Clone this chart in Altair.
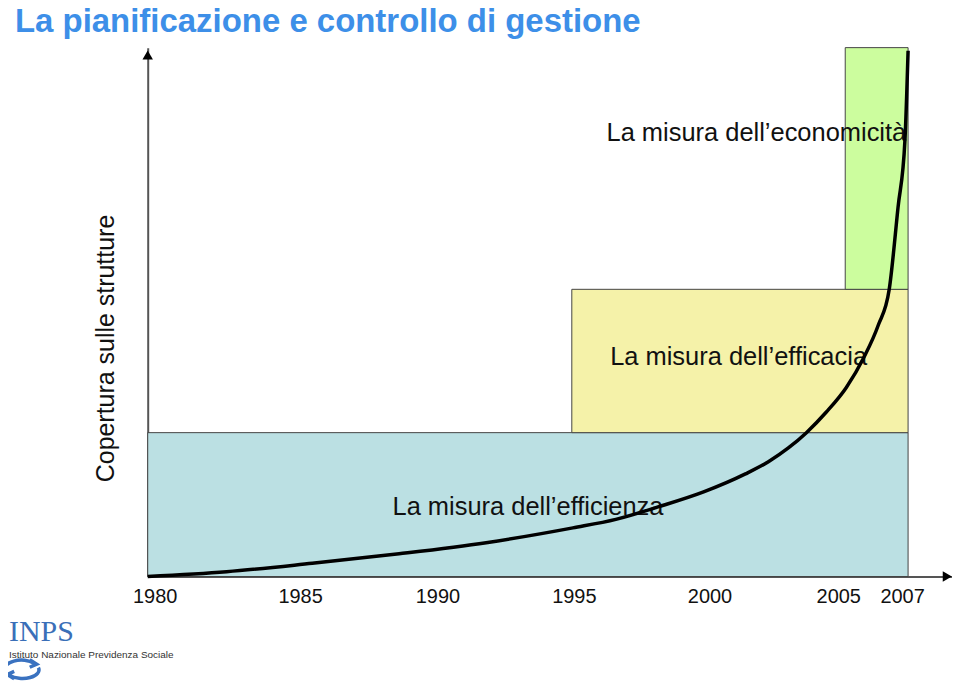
import altair as alt
import pandas as pd

TITLE = "La pianificazione e controllo di gestione"
Y_TITLE = "Copertura sulle strutture"
X_TICKS = [1980, 1985, 1990, 1995, 2000, 2005, 2007]
X_TICK_SHIFT = [7, 11, 7, 2, 1, -7, -6]

BOX_NAMES = ["efficienza", "efficacia", "economicita"]
BOX_X0 = [1980, 1995, 2005]
BOX_X1 = [2007, 2007, 2007]
BOX_Y0 = [0, 27.2, 54.3]
BOX_Y1 = [27.2, 54.3, 100]
BOX_COLORS = ["#BBE0E3", "#F5F2A9", "#CCFD9E"]

LABELS = ["La misura dell\u2019efficienza", "La misura dell\u2019efficacia",
          "La misura dell\u2019economicit\u00e0"]
LABEL_X = [1993.45, 2001.1, 2001.75]
LABEL_Y = [13.2, 41.5, 83.8]

CURVE_YEAR = [1980.0, 1982.79, 1985.82, 1988.89, 1991.97, 1995.04, 1996.61, 1998.18,
              1999.82, 2001.35, 2002.19, 2002.92, 2003.58, 2004.31, 2005.03, 2005.6,
              2006.05, 2006.4, 2006.68, 2006.9, 2007.0]
CURVE_VAL = [0, 0.9, 2.5, 4.3, 6.4, 9.2, 10.8, 13.2,
             16.0, 19.4, 21.7, 24.3, 27.2, 31.1, 35.7, 41.5,
             47.5, 54.3, 69.8, 82.5, 99.4]

LOGO_MARK = "INPS"
LOGO_TEXT = "Istituto Nazionale Previdenza Sociale"

X_END = 2008.4

boxes = pd.DataFrame({"name": BOX_NAMES, "x0": BOX_X0, "x1": BOX_X1,
                      "y0": BOX_Y0, "y1": BOX_Y1})
labels = pd.DataFrame({"label": LABELS, "x": LABEL_X, "y": LABEL_Y})
curve = pd.DataFrame({"year": CURVE_YEAR, "val": CURVE_VAL})
arrows = pd.DataFrame({"x": [X_END - 0.15, 1980], "y": [0, 98.6],
                       "shape": ["triangle-right", "triangle-up"]})
one = pd.DataFrame({"k": [0]})

x_scale = alt.Scale(domain=[1980, 1995, 2005, 2007, X_END],
                    range=[0, 425, 699, 762, 806], nice=False, zero=False)
y_scale = alt.Scale(domain=[0, 100], nice=False, zero=False)

label_offset = {
    "condition": [{"test": f"datum.value == {t}", "value": s}
                  for t, s in zip(X_TICKS, X_TICK_SHIFT)],
    "value": 0,
}

x_axis = alt.Axis(values=X_TICKS, format="d", title=None, ticks=False, grid=False,
                  labelFontSize=20, labelFont="Liberation Sans", labelColor="#111111",
                  labelPadding=10, domainColor="#555555", domainWidth=2,
                  labelFlush=False, labelOverlap=False, labelOffset=label_offset)
y_axis = alt.Axis(title=Y_TITLE, labels=False, ticks=False, grid=False,
                  domainColor="#555555", domainWidth=2, titleFontSize=25,
                  titleFont="Liberation Sans", titleFontWeight="normal",
                  titleColor="#111111", titleX=-34, titleY=301, titleAngle=270,
                  titleBaseline="alphabetic", titleAlign="center")

rects = alt.Chart(boxes).mark_rect(stroke="#444444", strokeWidth=1).encode(
    x=alt.X("x0:Q", scale=x_scale, axis=x_axis),
    x2="x1:Q",
    y=alt.Y("y0:Q", scale=y_scale, axis=y_axis),
    y2="y1:Q",
    color=alt.Color("name:N", scale=alt.Scale(domain=BOX_NAMES, range=BOX_COLORS),
                    legend=None),
)

texts = alt.Chart(labels).mark_text(fontSize=25.5, font="Liberation Sans",
                                    color="#111111", align="center",
                                    baseline="middle").encode(
    x=alt.X("x:Q", scale=x_scale, axis=x_axis),
    y=alt.Y("y:Q", scale=y_scale, axis=y_axis),
    text="label:N",
)

line = alt.Chart(curve).mark_line(color="black", strokeWidth=3.5,
                                  interpolate="monotone").encode(
    x=alt.X("year:Q", scale=x_scale, axis=x_axis),
    y=alt.Y("val:Q", scale=y_scale, axis=y_axis),
)

heads = alt.Chart(arrows).mark_point(filled=True, size=110, color="#000000",
                                     opacity=1).encode(
    x=alt.X("x:Q", scale=x_scale, axis=x_axis),
    y=alt.Y("y:Q", scale=y_scale, axis=y_axis),
    shape=alt.Shape("shape:N", scale=None),
)

logo1 = alt.Chart(one).mark_text(text=LOGO_MARK, font="Liberation Serif", fontSize=30,
                                 color="#3A6FB8", align="left",
                                 baseline="alphabetic").encode(
    x=alt.value(-139), y=alt.value(595))
logo2 = alt.Chart(one).mark_text(text=LOGO_TEXT, font="Liberation Sans", fontSize=10,
                                 color="#333333", align="left",
                                 baseline="alphabetic").encode(
    x=alt.value(-139), y=alt.value(612))
RING = ("M -0.95 0.1 A 0.95 0.5 0 0 1 0.7 -0.35 "
        "M 0.45 -0.55 L 0.85 -0.3 L 0.45 -0.12 "
        "M 0.95 -0.1 A 0.95 0.5 0 0 1 -0.7 0.35 "
        "M -0.45 0.55 L -0.85 0.3 L -0.45 0.12")
logo3 = alt.Chart(one).mark_point(shape=RING, size=1200, filled=False, strokeWidth=3.5,
                                  color="#3A72C0", opacity=1).encode(
    x=alt.value(-126), y=alt.value(623))

chart = alt.layer(rects, texts, line, heads, logo1, logo2, logo3).properties(
    width=806, height=530,
    autosize=alt.AutoSizeParams(type="none"),
    padding={"left": 140, "top": 39, "right": 0, "bottom": 104},
    title=alt.TitleParams(TITLE, anchor="start", frame="group", fontSize=33,
                          font="Liberation Sans", fontWeight="bold",
                          color="#3D8FE8", dx=-133, offset=5),
).configure_view(stroke=None)

chart.save("out.html", embed_options={"renderer": "svg", "actions": False})
